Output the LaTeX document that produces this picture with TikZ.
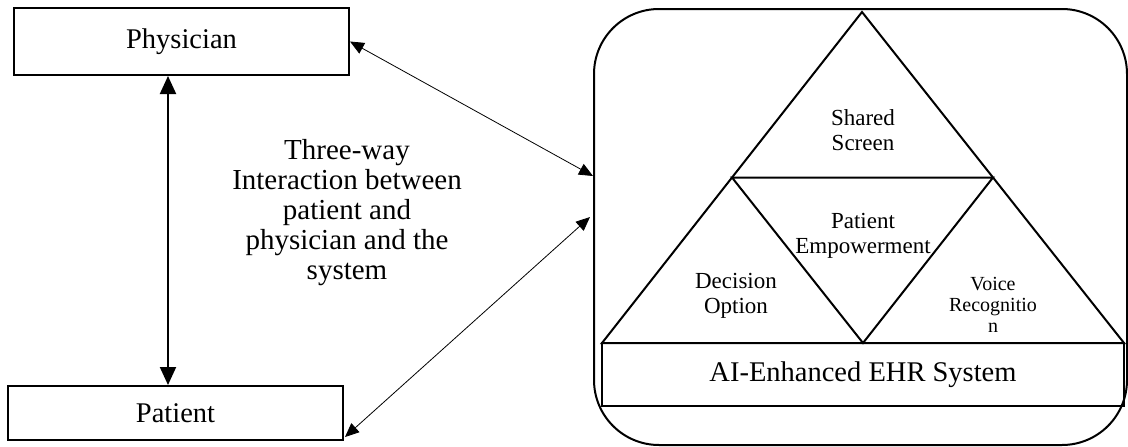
\documentclass[tikz,border=0pt]{standalone}
\usepackage{fontspec}
\setmainfont{Liberation Serif}
\usetikzlibrary{arrows.meta,calc,positioning}

\begin{document}
\begin{tikzpicture}[x=1pt,y=-1pt,
    actor/.style={draw,line width=2pt,minimum width=335pt,inner sep=0pt,font=\fontsize{28.5}{30}\selectfont},
    part/.style={align=center,inner sep=0pt,font=\fontsize{23}{24.5}\selectfont},
    link/.style={line width=0.8pt,{Triangle[length=14pt,width=12pt]}-{Triangle[length=14pt,width=12pt]}}]
  \useasboundingbox (0,0) rectangle (1128,447);

  % Physician and patient
  \node[actor,minimum height=67pt] (phys) at (181.5,41.5) {Physician};
  \node[actor,minimum height=54pt] (pat) at (175.5,413) {Patient};
  \draw[line width=2pt,{Triangle[length=18pt,width=16pt]}-{Triangle[length=18pt,width=16pt]}]
    ($(phys.south)+(-13.5,0)$) -- ($(pat.north)+(-7.5,0)$);

  \node[align=center,font=\fontsize{29}{30}\selectfont] (note) at (347,213)
    {Three-way\\Interaction between\\patient and\\physician and the\\system};

  % System box
  \node[draw,line width=2pt,rounded corners=65pt,minimum width=533pt,minimum height=436pt] (sys) at (860.5,227) {};
  \draw[link] (phys.east) -- ($(sys.west)+(0,-51)$);
  \draw[link] ($(sys.west)+(-3,-10)$) -- ($(pat.south east)+(1,-4)$);

  % Triangle
  \coordinate (top) at (862,12);
  \coordinate (bl) at (602,343);
  \coordinate (br) at (1124,343);
  \draw[line width=2pt] (top) -- (bl) -- (br) -- cycle;
  \draw[line width=2pt] ($(top)!.5!(bl)$) -- ($(top)!.5!(br)$) -- ($(bl)!.5!(br)$) -- cycle;

  \node[draw,line width=2pt,minimum width=522pt,minimum height=63pt,font=\fontsize{28.5}{30}\selectfont]
    (ehr) at (863,374.5) {AI-Enhanced EHR System};

  % Labels
  \node[part] (shared) at (863,130) {Shared\\Screen};
  \node[part] (empow) at (863,236) {Patient\\Empowerment};
  \node[part] (decis) at (736,296) {Decision\\Option};
  \node[part,font=\fontsize{20}{21}\selectfont] (voice) at (993,305) {Voice\\Recognitio\\n};
\end{tikzpicture}
\end{document}
